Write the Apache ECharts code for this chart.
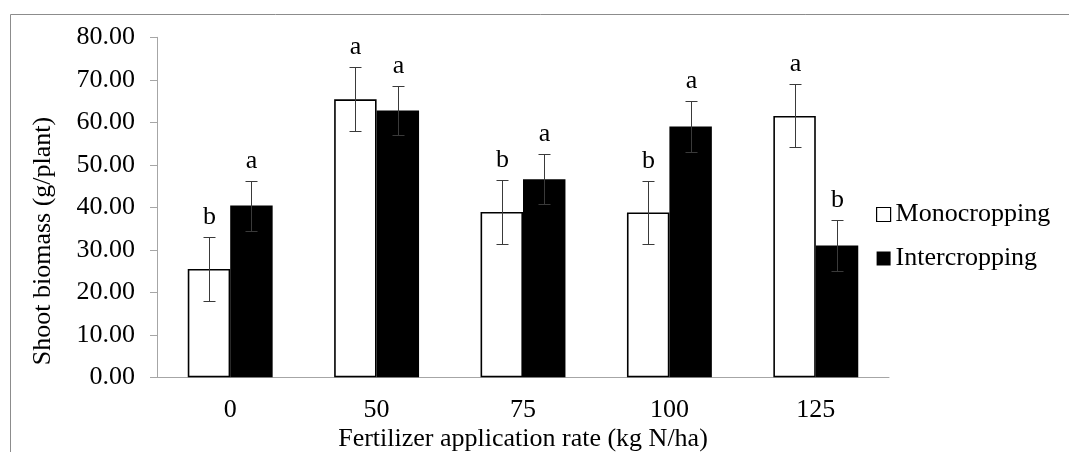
<!DOCTYPE html>
<html>
<head>
<meta charset="utf-8">
<script src="https://cdn.jsdelivr.net/npm/echarts@6/dist/echarts.min.js"></script>
<style>
  html, body { margin: 0; padding: 0; background: #fff; }
  #chart { width: 1069px; height: 452px; }
</style>
</head>
<body>
<div id="chart"></div>
<script>
// Shoot biomass by fertilizer rate, mono- vs intercropping (mean ± error, letter groups)
var categories = ['0', '50', '75', '100', '125'];
var monoValues = [25.5, 65.4, 38.9, 38.8, 61.5];
var monoErrors = [7.5, 7.5, 7.5, 7.5, 7.4];
var monoLetters = ['b', 'a', 'b', 'b', 'a'];
var interValues = [40.4, 62.8, 46.6, 59.0, 31.0];
var interErrors = [5.9, 5.8, 5.9, 5.9, 5.9];
var interLetters = ['a', 'a', 'a', 'a', 'b'];
var yTicks = { min: 0, max: 80, step: 10 };

var FONT = 'Liberation Serif, Times New Roman, serif';
var BAR_SHARE = 0.29;   // bar width as a share of the category band

function errorData(values, errors, letters) {
  return values.map(function (v, i) { return [i, v, errors[i], letters[i]]; });
}

function makeErrorRenderer(side) {
  return function (params, api) {
    var idx = api.value(0), v = api.value(1), e = api.value(2);
    var letter = categoriesLetter(params.seriesName, params.dataIndex);
    var band = api.size([1, 0])[0];
    var dx = side * band * BAR_SHARE / 2;
    var top = api.coord([idx, v + e]);
    var bot = api.coord([idx, v - e]);
    var x = Math.round(top[0] + dx) + 0.5;
    var yt = Math.round(top[1]) + 0.5, yb = Math.round(bot[1]) + 0.5;
    var cap = 6;
    var st = { stroke: '#3a3a3a', lineWidth: 1 };
    return {
      type: 'group',
      children: [
        { type: 'line', shape: { x1: x, y1: yt, x2: x, y2: yb }, style: st },
        { type: 'line', shape: { x1: x - cap, y1: yt, x2: x + cap, y2: yt }, style: st },
        { type: 'line', shape: { x1: x - cap, y1: yb, x2: x + cap, y2: yb }, style: st },
        { type: 'text', x: x, y: yt - 20,
          style: { text: letter, font: '26px ' + FONT, fill: '#000', align: 'center', verticalAlign: 'middle' } }
      ]
    };
  };
}

function categoriesLetter(name, i) {
  return name === 'monoErr' ? monoLetters[i] : interLetters[i];
}

var chart = echarts.init(document.getElementById('chart'));
chart.setOption({
  animation: false,
  backgroundColor: '#fff',
  textStyle: { fontFamily: FONT, color: '#000' },
  grid: { left: 157, right: 180, top: 37.3, bottom: 74.7, containLabel: false },
  legend: {
    orient: 'vertical',
    left: 876,
    top: 199.5,
    padding: 0,
    itemWidth: 14,
    itemHeight: 14,
    itemGap: 14,
    textStyle: { fontFamily: FONT, fontSize: 26, color: '#000', lineHeight: 30 },
    data: [
      { name: 'Monocropping', icon: 'rect', itemStyle: { color: '#fff', borderColor: '#000', borderWidth: 1.2 } },
      { name: 'Intercropping', icon: 'rect', itemStyle: { color: '#000', borderColor: '#000', borderWidth: 0 } }
    ]
  },
  xAxis: {
    type: 'category',
    data: categories,
    axisLine: { lineStyle: { color: '#a6a6a6', width: 1 } },
    axisTick: { show: false },
    axisLabel: { fontFamily: FONT, fontSize: 26, color: '#000', margin: 20 }
  },
  yAxis: {
    type: 'value',
    min: yTicks.min,
    max: yTicks.max,
    interval: yTicks.step,
    splitLine: { show: false },
    axisLine: { show: true, lineStyle: { color: '#a6a6a6', width: 1 } },
    axisTick: { show: true, inside: false, length: 7, lineStyle: { color: '#a6a6a6' } },
    axisLabel: {
      fontFamily: FONT, fontSize: 26, color: '#000', margin: 22,
      formatter: function (v) { return v.toFixed(2); }
    }
  },
  graphic: [
    { type: 'rect', shape: { x: 10.5, y: 14.5, width: 1200, height: 600 },
      style: { fill: 'none', stroke: '#8c8c8c', lineWidth: 1 }, silent: true },
    { type: 'text', x: 43, y: 241, rotation: Math.PI / 2,
      style: { text: 'Shoot biomass (g/plant)', font: '26px ' + FONT, fill: '#000',
               align: 'center', verticalAlign: 'middle' } },
    { type: 'text', x: 523, y: 439,
      style: { text: 'Fertilizer application rate (kg N/ha)', font: '26px ' + FONT, fill: '#000',
               align: 'center', verticalAlign: 'middle' } }
  ],
  series: [
    {
      name: 'Monocropping', type: 'bar', data: monoValues,
      barWidth: (BAR_SHARE * 100) + '%', barGap: '0%',
      itemStyle: { color: '#fff', borderColor: '#000', borderWidth: 1.6 }
    },
    {
      name: 'Intercropping', type: 'bar', data: interValues,
      barWidth: (BAR_SHARE * 100) + '%', barGap: '0%',
      itemStyle: { color: '#000', borderColor: '#000', borderWidth: 0 }
    },
    {
      name: 'monoErr', type: 'custom', z: 5,
      renderItem: makeErrorRenderer(-1),
      data: errorData(monoValues, monoErrors, monoLetters)
    },
    {
      name: 'interErr', type: 'custom', z: 5,
      renderItem: makeErrorRenderer(1),
      data: errorData(interValues, interErrors, interLetters)
    }
  ]
});
</script>
</body>
</html>
